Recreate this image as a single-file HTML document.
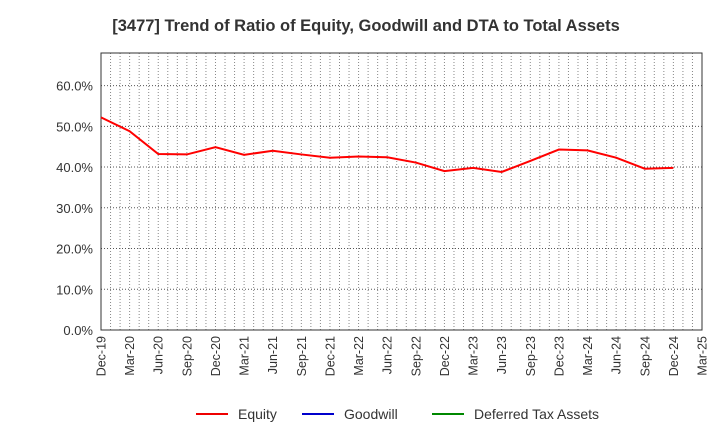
<!DOCTYPE html>
<html><head><meta charset="utf-8"><style>
body{margin:0;background:#fff;font-family:"Liberation Sans",sans-serif}
</style></head><body>
<svg id="c" width="720" height="440" xmlns="http://www.w3.org/2000/svg" font-family="Liberation Sans, sans-serif"></svg>
<script>
const categories=["Dec-19","Mar-20","Jun-20","Sep-20","Dec-20","Mar-21","Jun-21","Sep-21","Dec-21","Mar-22","Jun-22","Sep-22","Dec-22","Mar-23","Jun-23","Sep-23","Dec-23","Mar-24","Jun-24","Sep-24","Dec-24","Mar-25"];
const equity=[52.2,48.8,43.2,43.1,44.9,43.0,44.0,43.1,42.3,42.6,42.4,41.1,39.0,39.8,38.8,41.5,44.3,44.1,42.3,39.6,39.8];
const yTicks=[0,10,20,30,40,50,60];
const yMax=68;
const svg=document.getElementById('c');const NS="http://www.w3.org/2000/svg";
const L=101,R=702,T=53,B=330;
const x=i=>L+(R-L)*i/(categories.length-1);
const y=v=>B-(B-T)*v/yMax;
function mk(t,a,p){const e=document.createElementNS(NS,t);for(const k in a)e.setAttribute(k,a[k]);(p||svg).appendChild(e);return e;}
const title=mk('text',{x:366,y:31,'text-anchor':'middle','font-size':16.5,'font-weight':'bold',fill:'#333'});


title.textContent="[3477]  Trend of Ratio of Equity, Goodwill and DTA to Total Assets";
const months=(categories.length-1)*3;
for(let m=1;m<months;m++){const gx=L+(R-L)*m/months;const g=mk('line',{x1:gx,x2:gx,y1:T,y2:B,stroke:'#888','stroke-dasharray':'1,2','stroke-width':1});

}
yTicks.forEach(v=>{if(v>0){const g=mk('line',{x1:L,x2:R,y1:y(v),y2:y(v),stroke:'#555','stroke-dasharray':'1,2'});

}
const t=mk('text',{x:L-8,y:y(v)+5,'text-anchor':'end','font-size':13,fill:'#333'});


t.textContent=v.toFixed(1)+'%';});
const frame=mk('rect',{x:L,y:T,width:R-L,height:B-T,fill:'none',stroke:'#333','stroke-width':1});


categories.forEach((c,i)=>{const t=mk('text',{transform:`translate(${x(i)+4.5},${B+6}) rotate(-90)`,'text-anchor':'end','font-size':12.5,fill:'#333'});


t.textContent=c;});
const line=mk('polyline',{points:equity.map((v,i)=>x(i)+','+y(v)).join(' '),fill:'none',stroke:'#f00','stroke-width':2});


const leg=[["Equity","#e00",196],["Goodwill","#00c",302],["Deferred Tax Assets","#080",432]];
leg.forEach(l=>{const g=mk('g',{});


mk('line',{x1:l[2],x2:l[2]+32,y1:414,y2:414,stroke:l[1],'stroke-width':2},g);
const t=mk('text',{x:l[2]+42,y:419,'font-size':14,fill:'#333'},g);t.textContent=l[0];});
</script>
</body></html>
